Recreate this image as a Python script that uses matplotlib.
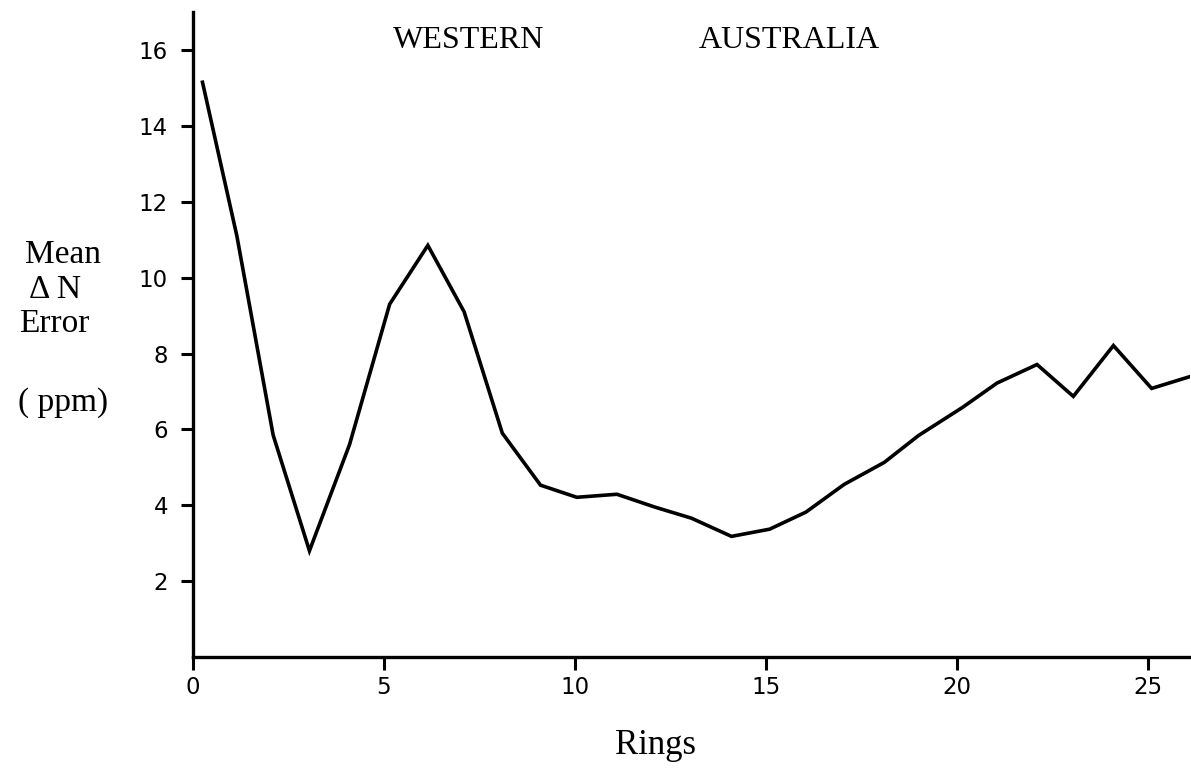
import matplotlib
matplotlib.use("Agg")
import matplotlib.pyplot as plt

# mean Delta-N error per ring, Western Australia
rings = [0.25, 1.15, 2.1, 3.05, 4.1, 5.15, 6.15, 7.1, 8.1, 9.1, 10.05, 11.1, 12.1,
         13.05, 14.1, 15.1, 16.05, 17.05, 18.1, 19.0, 20.15, 21.05, 22.1, 23.05,
         24.1, 25.1, 26.1]
mean_err = [15.15, 11.1, 5.85, 2.8, 5.6, 9.3, 10.85, 9.1, 5.9, 4.53, 4.21, 4.29, 3.95,
            3.66, 3.18, 3.37, 3.82, 4.55, 5.13, 5.84, 6.58, 7.22, 7.71, 6.87,
            8.21, 7.08, 7.39]

x_ticks = [0, 5, 10, 15, 20, 25]
y_ticks = [2, 4, 6, 8, 10, 12, 14, 16]
ylabel_lines = ["Mean", "\u0394 N", "Error", "( ppm)"]

SERIF = ["Liberation Serif", "DejaVu Serif"]
SANS = "DejaVu Sans"

fig = plt.figure(figsize=(11.91, 7.78), dpi=100)
ax = fig.add_axes([0.162, 0.1555, 0.837, 0.829])

ax.plot(rings, mean_err, color="black", lw=2.6, solid_joinstyle="miter")

ax.set_xlim(0, 26.1)
ax.set_ylim(0, 17)
ax.set_xticks(x_ticks)
ax.set_yticks(y_ticks)
ax.set_xticklabels([str(t) for t in x_ticks], family=SANS, fontsize=16.5)
ax.set_yticklabels([str(t) for t in y_ticks], family=SANS, fontsize=16.5)
ax.tick_params(axis="both", direction="out", length=9, width=2.2, color="black")
ax.tick_params(axis="x", pad=5)
ax.tick_params(axis="y", pad=9)

for side in ["top", "right"]:
    ax.spines[side].set_visible(False)
for side in ["left", "bottom"]:
    ax.spines[side].set_linewidth(2.4)

# title words sit apart inside the plot area
fig.text(469 / 1191, 1 - 40 / 778, "WESTERN", family=SERIF, fontsize=23,
         ha="center", va="center")
fig.text(789 / 1191, 1 - 40 / 778, "AUSTRALIA", family=SERIF, fontsize=23,
         ha="center", va="center")

# stacked y label at the left
for txt, xp, yp in zip(ylabel_lines, [63, 55, 54, 63], [255, 290, 324, 403]):
    fig.text(xp / 1191, 1 - yp / 778, txt, family=SERIF, fontsize=24,
             ha="center", va="center")

fig.text(655 / 1191, 1 - 745 / 778, "Rings", family=SERIF, fontsize=25,
         ha="center", va="center")

fig.savefig("out.png", dpi=100, facecolor="white")
